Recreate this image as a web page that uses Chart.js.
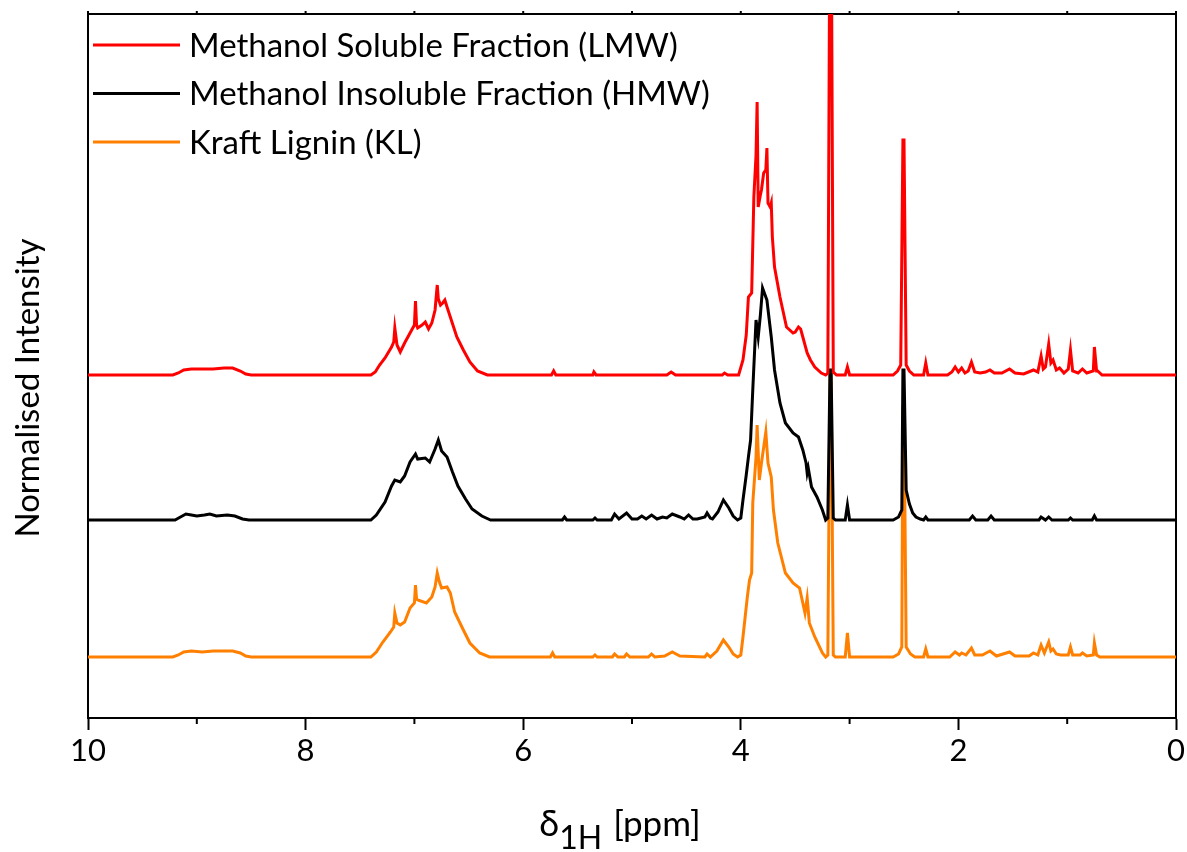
<!DOCTYPE html>
<html>
<head>
<meta charset="utf-8">
<title>1H NMR</title>
<script src="https://cdn.jsdelivr.net/npm/chart.js@4.4.0/dist/chart.umd.min.js"></script>
<style>
  html, body { margin: 0; padding: 0; background: #fff; }
</style>
</head>
<body>
<canvas id="nmrChart" width="1187" height="852"></canvas>
<script>
// [ppm, intensity above own baseline]
var lmwSpectrum = [
  [10.0,0],[9.22,0],[9.17,2],[9.12,5],[9.05,6],[8.95,6],[8.85,6],[8.75,7],[8.67,7],[8.6,4],[8.55,1],[8.5,0],
  [7.40,0],[7.36,3],[7.32,10],[7.27,17],[7.21,28],[7.19,33],[7.18,47],[7.16,30],[7.13,23],[7.09,32],[7.04,42],[7.00,50],[6.99,74],[6.98,50],[6.97,47],[6.93,50],[6.90,53],[6.87,46],[6.84,52],[6.81,65],[6.79,90],[6.78,76],[6.76,70],[6.74,72],[6.72,75],[6.70,68],[6.67,58],[6.61,38],[6.55,25],[6.49,13],[6.42,4],[6.33,0],
  [5.74,0],[5.72,4],[5.70,0],[5.36,0],[5.35,3],[5.33,0],[4.68,0],[4.64,3],[4.60,0],[4.17,0],[4.15,2],[4.12,0],
  [4.02,0],[3.98,15],[3.95,40],[3.93,78],[3.90,82],[3.88,178],[3.86,220],[3.85,273],[3.84,168],[3.82,180],[3.81,185],[3.79,202],[3.77,205],[3.76,227],[3.75,172],[3.73,168],[3.72,172],[3.71,138],[3.69,108],[3.64,78],[3.58,48],[3.52,42],[3.50,43],[3.47,48],[3.45,46],[3.43,38],[3.39,22],[3.36,15],[3.32,8],[3.26,2],[3.22,0],[3.20,2],[3.18,500],[3.17,500],[3.15,3],[3.12,0],
  [3.04,0],[3.02,8],[3.00,0],
  [2.60,0],[2.56,4],[2.53,10],[2.51,235],[2.50,235],[2.48,10],[2.45,4],[2.41,0],
  [2.32,0],[2.30,12],[2.28,0],
  [2.10,0],[2.06,3],[2.03,8],[2.00,3],[1.97,7],[1.94,2],[1.91,4],[1.88,13],[1.85,3],[1.80,2],[1.75,3],[1.71,5],[1.67,2],[1.60,2],[1.53,6],[1.48,2],[1.40,1],[1.31,5],[1.27,3],[1.24,19],[1.22,6],[1.20,8],[1.17,31],[1.15,12],[1.13,15],[1.10,5],[1.07,7],[1.03,2],[0.99,6],[0.97,25],[0.95,4],[0.90,2],[0.86,6],[0.82,2],[0.76,4],[0.75,28],[0.73,4],[0.72,4],[0.68,0],[0.0,0]
];

var hmwSpectrum = [
  [10.0,0],[9.2,0],[9.15,3],[9.10,6],[9.05,5],[9.0,4],[8.93,5],[8.88,6],[8.82,4],[8.72,5],[8.65,4],[8.58,1],[8.52,0],
  [7.40,0],[7.35,5],[7.27,18],[7.21,34],[7.18,40],[7.13,38],[7.09,44],[7.04,58],[6.99,66],[6.97,61],[6.90,62],[6.86,58],[6.81,71],[6.78,80],[6.75,69],[6.70,63],[6.65,48],[6.60,34],[6.53,21],[6.47,11],[6.38,4],[6.30,0],
  [5.64,0],[5.62,3],[5.60,0],[5.36,0],[5.34,2],[5.32,0],[5.19,0],[5.16,6],[5.12,1],[5.05,7],[5.00,1],[4.95,1],[4.91,4],[4.87,1],[4.82,5],[4.77,1],[4.72,3],[4.68,2],[4.63,6],[4.56,3],[4.52,1],[4.48,5],[4.44,1],[4.40,1],[4.33,3],[4.31,7],[4.28,2],[4.26,1],[4.21,8],[4.16,20],[4.11,12],[4.07,4],[4.03,0],
  [4.00,2],[3.98,20],[3.95,45],[3.93,63],[3.91,80],[3.89,130],[3.86,200],[3.84,183],[3.82,205],[3.80,232],[3.76,220],[3.72,183],[3.69,150],[3.64,117],[3.59,97],[3.52,87],[3.47,83],[3.43,70],[3.40,57],[3.39,47],[3.38,52],[3.35,33],[3.30,23],[3.25,10],[3.22,0],[3.20,2],[3.18,150],[3.17,150],[3.15,2],[3.13,0],
  [3.04,0],[3.02,15],[3.00,0],
  [2.60,0],[2.55,3],[2.52,10],[2.51,150],[2.50,150],[2.48,30],[2.45,16],[2.42,7],[2.39,3],[2.35,1],[2.32,0],[2.30,3],[2.28,0],
  [1.90,0],[1.87,4],[1.84,0],[1.73,0],[1.70,4],[1.67,0],[1.26,0],[1.24,3],[1.20,0],[1.17,3],[1.14,0],[0.99,0],[0.97,2],[0.95,0],[0.77,0],[0.75,4],[0.73,0],[0.0,0]
];

var klSpectrum = [
  [10.0,0],[9.22,0],[9.17,2],[9.12,5],[9.05,6],[8.95,5],[8.85,6],[8.75,6],[8.67,6],[8.6,4],[8.55,1],[8.5,0],
  [7.40,0],[7.35,5],[7.29,15],[7.22,25],[7.19,30],[7.18,44],[7.16,34],[7.13,32],[7.09,35],[7.04,49],[7.00,54],[6.99,72],[6.98,58],[6.97,57],[6.89,54],[6.84,60],[6.81,70],[6.79,84],[6.77,75],[6.75,69],[6.70,70],[6.67,64],[6.63,45],[6.55,27],[6.49,14],[6.40,4],[6.31,0],
  [5.75,0],[5.73,4],[5.71,0],[5.36,0],[5.34,2],[5.32,0],[5.18,0],[5.16,3],[5.13,0],[5.07,0],[5.05,3],[5.02,0],[4.85,0],[4.82,3],[4.79,0],[4.70,1],[4.63,5],[4.56,1],[4.33,0],[4.31,3],[4.28,0],[4.22,6],[4.16,17],[4.11,10],[4.07,3],[4.03,0],
  [4.00,2],[3.98,20],[3.94,60],[3.92,77],[3.90,84],[3.89,154],[3.86,200],[3.85,232],[3.83,177],[3.81,194],[3.77,225],[3.75,194],[3.72,180],[3.70,147],[3.66,114],[3.59,84],[3.52,74],[3.46,69],[3.41,44],[3.39,59],[3.37,34],[3.32,20],[3.25,4],[3.22,0],[3.20,2],[3.18,285],[3.17,285],[3.15,2],[3.13,0],
  [3.04,0],[3.02,24],[3.00,0],
  [2.60,0],[2.55,3],[2.52,10],[2.51,250],[2.50,250],[2.48,10],[2.44,3],[2.40,0],[2.32,0],[2.30,8],[2.28,0],
  [2.08,0],[2.03,5],[1.99,2],[1.97,4],[1.93,2],[1.88,9],[1.85,2],[1.78,2],[1.71,6],[1.65,1],[1.53,5],[1.48,1],[1.35,1],[1.31,4],[1.27,2],[1.24,12],[1.21,4],[1.17,15],[1.15,6],[1.13,8],[1.10,3],[1.06,2],[0.99,2],[0.97,10],[0.95,2],[0.88,2],[0.86,4],[0.82,1],[0.76,2],[0.75,14],[0.73,2],[0.70,0],[0.0,0]
];

var seriesLabels = ["Methanol Soluble Fraction (LMW)", "Methanol Insoluble Fraction (HMW)", "Kraft Lignin (KL)"];
var seriesColors = ["#ff0000", "#000000", "#ff8000"];
var stackOffsets = [343, 198, 61];   // vertical offset of each trace
var xTicks = [10, 8, 6, 4, 2, 0];

var FONT = "Lato, 'Noto Sans', sans-serif";

function toPoints(spec, offset) {
  return spec.map(function (p) { return { x: p[0], y: p[1] + offset }; });
}

var spectra = [lmwSpectrum, hmwSpectrum, klSpectrum];
var datasets = spectra.map(function (s, i) {
  return {
    label: seriesLabels[i],
    data: toPoints(s, stackOffsets[i]),
    borderColor: seriesColors[i],
    borderWidth: 3,
    pointRadius: 0,
    tension: 0,
    fill: false
  };
});

// legend, axis titles and minor ticks
var decorations = {
  id: 'decorations',
  afterDraw: function (chart) {
    var ctx = chart.ctx, area = chart.chartArea, xs = chart.scales.x;
    ctx.save();
    ctx.strokeStyle = '#000';
    ctx.lineWidth = 2;
    for (var v = 0; v <= 10; v++) {
      var px = xs.getPixelForValue(v);
      if (v % 2 === 1) {
        ctx.beginPath(); ctx.moveTo(px, area.bottom); ctx.lineTo(px, area.bottom + 6); ctx.stroke();
      }
      ctx.beginPath(); ctx.moveTo(px, area.top); ctx.lineTo(px, area.top - 3); ctx.stroke();
    }

    // legend
    ctx.font = '33px ' + FONT;
    ctx.textBaseline = 'middle';
    ctx.textAlign = 'left';
    chart.data.datasets.forEach(function (ds, i) {
      var y = 45 + i * 48.5;
      ctx.strokeStyle = ds.borderColor;
      ctx.lineWidth = 3;
      ctx.beginPath(); ctx.moveTo(93, y); ctx.lineTo(180, y); ctx.stroke();
      ctx.fillStyle = '#000';
      ctx.fillText(ds.label, 189, y + 1);
    });

    // y title
    ctx.save();
    ctx.translate(28, 388);
    ctx.rotate(-Math.PI / 2);
    ctx.textAlign = 'center';
    ctx.textBaseline = 'middle';
    ctx.font = '33px ' + FONT;
    ctx.fillText('Normalised Intensity', 0, 0);
    ctx.restore();

    // x title with subscript
    ctx.textAlign = 'left';
    ctx.textBaseline = 'alphabetic';
    ctx.font = '36px ' + FONT;
    var wD = ctx.measureText('\u03b4').width;
    ctx.font = '32px ' + FONT;
    var wS = ctx.measureText('1H').width;
    ctx.font = '35px ' + FONT;
    var wP = ctx.measureText(' [ppm]').width;
    var x0 = 619 - (wD + wS + wP) / 2;
    var base = 836;
    ctx.font = '36px ' + FONT;
    ctx.fillText('\u03b4', x0, base);
    ctx.font = '32px ' + FONT;
    ctx.fillText('1H', x0 + wD, base + 13);
    ctx.font = '35px ' + FONT;
    ctx.fillText(' [ppm]', x0 + wD + wS + 2, base);
    ctx.restore();
  }
};

var ctx = document.getElementById('nmrChart').getContext('2d');
var nmrChart = new Chart(ctx, {
  type: 'line',
  data: { datasets: datasets },
  options: {
    responsive: false,
    animation: false,
    layout: { padding: { left: 88, right: 11, top: 14, bottom: 0 } },
    plugins: { legend: { display: false }, tooltip: { enabled: false } },
    scales: {
      x: {
        type: 'linear',
        reverse: true,
        min: 0,
        max: 10,
        afterBuildTicks: function (scale) {
          scale.ticks = xTicks.map(function (v) { return { value: v }; });
        },
        afterFit: function (scale) { scale.height = 134; },
        ticks: { color: '#000', font: { family: FONT, size: 31 }, padding: 2, maxRotation: 0 },
        grid: { drawOnChartArea: false, drawTicks: true, tickLength: 12, tickWidth: 2, tickColor: '#000' },
        border: { display: true, color: '#000', width: 2 }
      },
      xTop: {
        type: 'linear',
        position: 'top',
        reverse: true,
        min: 0,
        max: 10,
        afterFit: function (scale) { scale.height = 0; },
        ticks: { display: false },
        grid: { display: false },
        border: { display: true, color: '#000', width: 2 }
      },
      y: {
        min: 0,
        max: 704,
        afterFit: function (scale) { scale.width = 0; },
        ticks: { display: false },
        grid: { display: false },
        border: { display: true, color: '#000', width: 2 }
      },
      yRight: {
        position: 'right',
        min: 0,
        max: 704,
        afterFit: function (scale) { scale.width = 0; },
        ticks: { display: false },
        grid: { display: false },
        border: { display: true, color: '#000', width: 2 }
      }
    }
  },
  plugins: [decorations]
});
</script>
</body>
</html>
